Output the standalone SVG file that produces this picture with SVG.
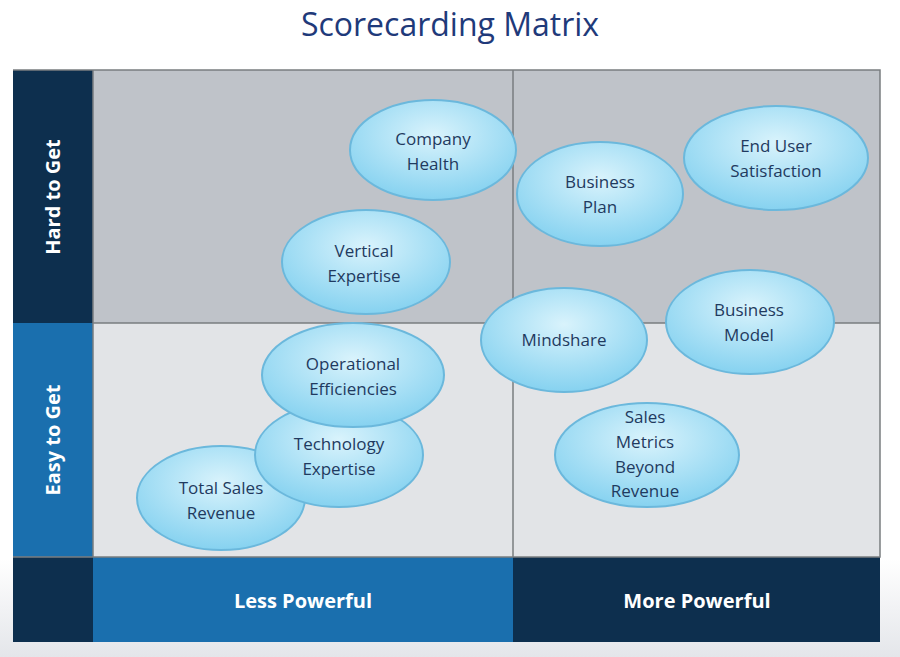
<svg xmlns="http://www.w3.org/2000/svg" width="900" height="657" viewBox="0 0 900 657">
<defs>
<radialGradient id="eg" cx="50%" cy="35%" r="65%">
<stop offset="0" stop-color="#d9f3fc"/><stop offset="1" stop-color="#86d2f0"/>
</radialGradient>
<linearGradient id="bg" x1="0" y1="0" x2="0" y2="1">
<stop offset="0.85" stop-color="#ffffff"/><stop offset="1" stop-color="#e4e6ea"/>
</linearGradient>
</defs>
<style>
.e{fill:url(#eg);stroke:#6bb8dc;stroke-width:2}
.t{font-family:"Open Sans","Liberation Sans",sans-serif;font-size:17px;fill:#1f3a60;text-anchor:middle}
.w{font-family:"Open Sans","Liberation Sans",sans-serif;font-size:20px;font-weight:bold;fill:#fff;text-anchor:middle}
.g{stroke:#7a7d80;stroke-width:1.5;fill:none}
</style>
<rect width="900" height="657" fill="url(#bg)"/>
<text x="450" y="36" font-family="'Open Sans','Liberation Sans',sans-serif" font-size="32" fill="#1f3a7a" text-anchor="middle">Scorecarding Matrix</text>
<g id="grid">
<rect x="13" y="70" width="80" height="253" fill="#0d2f4e"/>
<rect x="13" y="323" width="80" height="234" fill="#1a6fae"/>
<rect x="13" y="557" width="80" height="85" fill="#0d2f4e"/>
<rect x="93" y="557" width="420" height="85" fill="#1a6fae"/>
<rect x="513" y="557" width="367" height="85" fill="#0d2f4e"/>
<rect x="93" y="70" width="787" height="253" fill="#bfc3c9"/>
<rect x="93" y="323" width="787" height="234" fill="#e2e4e7"/>
<path class="g" d="M93 70H880V557H93Z M513 70V557 M93 323H880 M13 70H93 M13 557H93"/>
</g>
<g id="labels">
<text class="w" transform="translate(60 197) rotate(-90)">Hard to Get</text>
<text class="w" transform="translate(60 440) rotate(-90)">Easy to Get</text>
<text class="w" x="303" y="608">Less Powerful</text>
<text class="w" x="697" y="608">More Powerful</text>
</g>
<g id="company-health"><ellipse class="e" cx="433" cy="150" rx="83" ry="50"/><text class="t" x="433" y="145">Company</text><text class="t" x="433" y="170">Health</text></g>
<g id="business-plan"><ellipse class="e" cx="600" cy="194" rx="83" ry="52"/><text class="t" x="600" y="188">Business</text><text class="t" x="600" y="213">Plan</text></g>
<g id="end-user"><ellipse class="e" cx="776" cy="158" rx="92" ry="52"/><text class="t" x="776" y="152">End User</text><text class="t" x="776" y="177">Satisfaction</text></g>
<g id="vertical-expertise"><ellipse class="e" cx="366" cy="262" rx="84" ry="52"/><text class="t" x="364" y="257">Vertical</text><text class="t" x="364" y="282">Expertise</text></g>
<g id="mindshare"><ellipse class="e" cx="564" cy="340" rx="83" ry="52"/><text class="t" x="564" y="346">Mindshare</text></g>
<g id="business-model"><ellipse class="e" cx="750" cy="322" rx="84" ry="52"/><text class="t" x="749" y="316">Business</text><text class="t" x="749" y="341">Model</text></g>
<g id="total-sales"><ellipse class="e" cx="221" cy="498" rx="84" ry="52"/><text class="t" x="221" y="494">Total Sales</text><text class="t" x="221" y="519">Revenue</text></g>
<g id="technology-expertise"><ellipse class="e" cx="339" cy="455" rx="84" ry="52"/><text class="t" x="339" y="450">Technology</text><text class="t" x="339" y="475">Expertise</text></g>
<g id="operational"><ellipse class="e" cx="353" cy="375" rx="91" ry="52"/><text class="t" x="353" y="370">Operational</text><text class="t" x="353" y="395">Efficiencies</text></g>
<g id="sales-metrics"><ellipse class="e" cx="647" cy="455" rx="92" ry="52"/><text class="t" x="645" y="423">Sales</text><text class="t" x="645" y="448">Metrics</text><text class="t" x="645" y="473">Beyond</text><text class="t" x="645" y="497">Revenue</text></g>
</svg>
